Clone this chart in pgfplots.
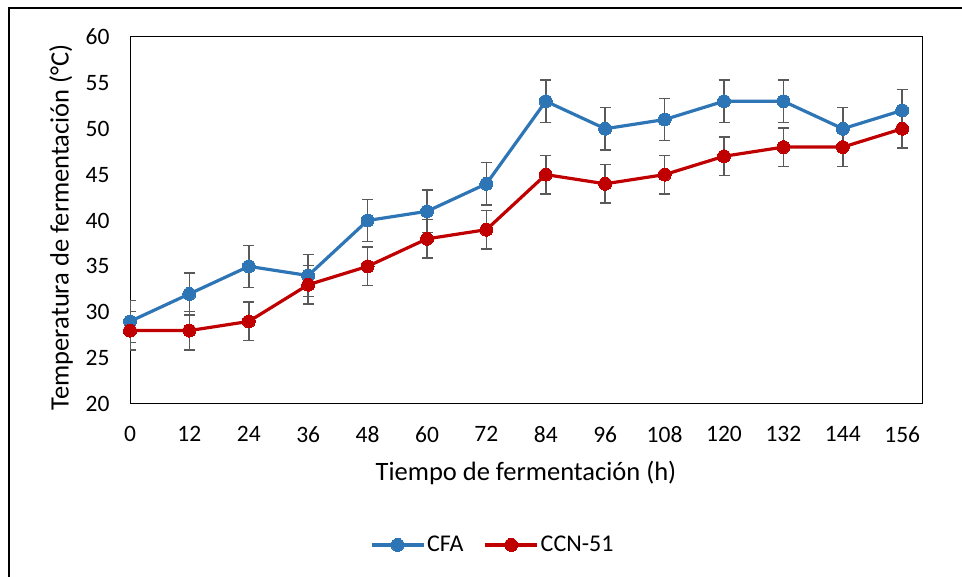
\documentclass[border=0pt]{standalone}
\usepackage{fontspec}
\setmainfont{Carlito}
\usepackage{pgfplots}
\pgfplotsset{compat=1.18}
\definecolor{cfa}{HTML}{2E75B6}
\definecolor{ccn}{HTML}{C00000}
\definecolor{errgray}{HTML}{595959}
\begin{document}
\begin{tikzpicture}[x=1pt,y=1pt]
\useasboundingbox (0,0) rectangle (962,577);
% outer chart frame
\draw[line width=2pt] (9,0) -- (9,569) -- (962,569);
\begin{axis}[
  at={(130pt,173pt)}, anchor=south west,
  scale only axis, width=792pt, height=367pt,
  xmin=0, xmax=160, ymin=20, ymax=60,
  xtick={0,12,...,156}, ytick={20,25,...,60},
  major tick length=0pt,
  axis line style={line width=1pt},
  tick label style={font=\fontsize{23.5}{27}\selectfont},
  /pgf/number format/assume math mode=true,
  xticklabel style={yshift=-19pt},
  yticklabel style={xshift=-17pt},
  xlabel={Tiempo de fermentación (h)},
  ylabel={Temperatura de fermentación (°C)},
  label style={font=\fontsize{26.5}{30}\selectfont},
  xlabel style={at={(axis description cs:0.5,-0.188)}, anchor=center},
  ylabel style={at={(axis description cs:-0.087,0.482)}, anchor=center, rotate=0},
  legend columns=2,
  legend style={draw=none, at={(0.458,-0.384)}, anchor=center,
    font=\fontsize{24}{28}\selectfont,
    /tikz/every even column/.append style={column sep=18pt}},
  legend image code/.code={
    \draw[#1, mark=none] (0pt,0pt) -- (52pt,0pt);
    \draw[#1, only marks] plot coordinates {(26pt,0pt)};
  },
  error bars/y dir=both, error bars/y explicit,
  error bars/error bar style={errgray, line width=1.5pt},
  error bars/error mark options={errgray, rotate=90, mark size=5.5pt, line width=1.5pt},
]
\addplot[cfa, line width=3.2pt, mark=*, mark size=6.5pt,
  mark options={solid, fill=cfa, draw=cfa, line width=0pt}]
  coordinates {
  (0,29) +- (0,2.3)
  (12,32) +- (0,2.3)
  (24,35) +- (0,2.3)
  (36,34) +- (0,2.3)
  (48,40) +- (0,2.3)
  (60,41) +- (0,2.3)
  (72,44) +- (0,2.3)
  (84,53) +- (0,2.3)
  (96,50) +- (0,2.3)
  (108,51) +- (0,2.3)
  (120,53) +- (0,2.3)
  (132,53) +- (0,2.3)
  (144,50) +- (0,2.3)
  (156,52) +- (0,2.3)
  };
\addlegendentry{CFA}
\addplot[ccn, line width=3.2pt, mark=*, mark size=6.5pt,
  mark options={solid, fill=ccn, draw=ccn, line width=0pt}]
  coordinates {
  (0,28) +- (0,2.1)
  (12,28) +- (0,2.1)
  (24,29) +- (0,2.1)
  (36,33) +- (0,2.1)
  (48,35) +- (0,2.1)
  (60,38) +- (0,2.1)
  (72,39) +- (0,2.1)
  (84,45) +- (0,2.1)
  (96,44) +- (0,2.1)
  (108,45) +- (0,2.1)
  (120,47) +- (0,2.1)
  (132,48) +- (0,2.1)
  (144,48) +- (0,2.1)
  (156,50) +- (0,2.1)
  };
\addlegendentry{CCN-51}
\end{axis}
\end{tikzpicture}
\end{document}
